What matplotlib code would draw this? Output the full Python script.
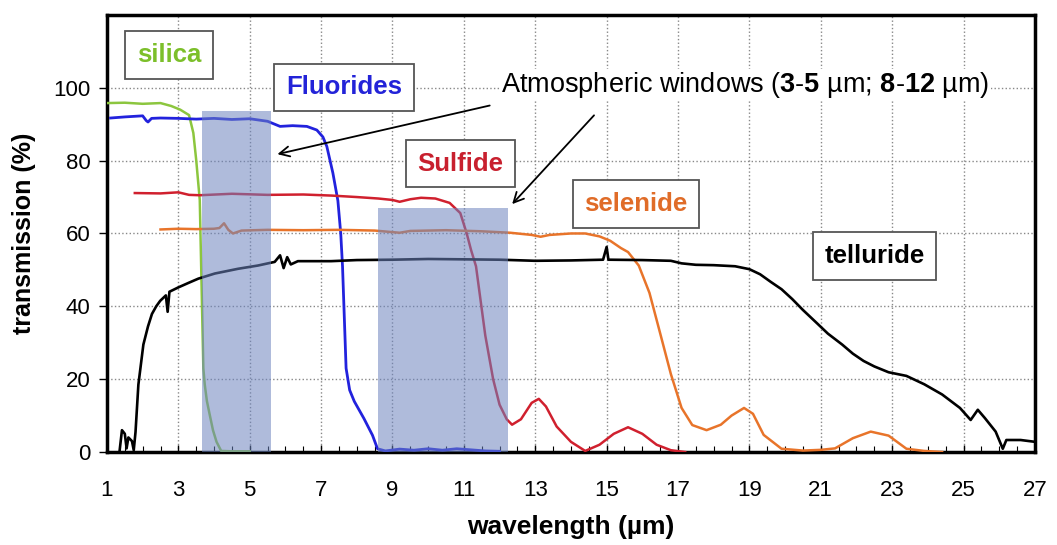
import numpy as np
import matplotlib
matplotlib.use("Agg")
import matplotlib.pyplot as plt
from matplotlib.ticker import MultipleLocator

plt.rcParams['font.family'] = ['Liberation Sans', 'DejaVu Sans']
plt.rcParams['mathtext.fontset'] = 'custom'
plt.rcParams['mathtext.rm'] = 'Liberation Sans'
plt.rcParams['mathtext.bf'] = 'Liberation Sans:bold'

# Données (longueur d'onde en µm, transmission en %)
silica_x = [1.0, 1.5, 2.0, 2.5, 2.8, 3.05, 3.3, 3.42, 3.5, 3.6, 3.65, 3.7, 3.74, 3.8,
            3.88, 3.97, 4.07, 4.2, 4.5, 5.0]
silica_y = [95.8, 95.9, 95.6, 95.8, 95.0, 94.0, 92.5, 87.6, 80.2, 69.2, 46.0, 23.0, 18.5, 14.0,
            10.2, 6.0, 2.8, 0.3, 0.2, 0.2]

fluor_x = [1.1, 1.5, 2.0, 2.1, 2.15, 2.25, 2.5, 3.0, 3.5, 4.0, 4.5, 5.0, 5.5, 5.85, 6.2,
           6.6, 6.88, 7.05, 7.16, 7.33, 7.47, 7.55, 7.6, 7.65, 7.7, 7.8, 7.93, 8.2, 8.44,
           8.58, 8.8, 9.2, 9.6, 10.0, 10.4, 10.8, 11.2, 11.6, 12.0]
fluor_y = [91.7, 92.0, 92.3, 91.0, 90.6, 91.6, 91.7, 91.6, 91.4, 91.6, 91.3, 91.5, 90.8, 89.4, 89.6,
           89.4, 88.4, 86.5, 83.9, 76.6, 69.0, 60.0, 51.0, 37.0, 23.0, 17.0, 13.9, 9.2, 4.6,
           0.9, 0.3, 0.8, 0.5, 0.9, 0.5, 0.9, 0.6, 0.3, 0.2]

sulf_x = [1.78, 2.5, 3.0, 3.3, 3.6, 4.5, 5.5, 6.5, 7.3, 8.0, 8.6, 9.0, 9.2, 9.5, 9.8,
          10.2, 10.6, 10.9, 11.08, 11.2, 11.34, 11.6, 11.82, 12.0, 12.2, 12.35, 12.6, 12.9,
          13.1, 13.3, 13.6, 14.0, 14.4, 14.8, 15.2, 15.6, 16.0, 16.4, 16.8, 17.2]
sulf_y = [71.1, 71.0, 71.3, 70.6, 70.5, 70.9, 70.6, 70.7, 70.4, 70.0, 69.6, 69.2, 68.7, 69.4, 69.8,
          69.6, 68.4, 65.6, 60.0, 55.5, 51.0, 32.0, 20.0, 13.0, 9.0, 7.5, 9.0, 13.5,
          14.6, 12.5, 7.0, 2.8, 0.3, 2.0, 5.0, 6.8, 5.0, 2.0, 0.5, 0.0]

sel_x = [2.5, 3.0, 3.5, 4.0, 4.15, 4.28, 4.4, 4.53, 4.77, 5.5, 6.5, 7.5, 8.5, 9.2, 9.5,
         10.5, 11.5, 12.3, 12.9, 13.15, 13.4, 14.0, 14.4, 14.8, 15.1, 15.4, 15.6, 15.9,
         16.2, 16.5, 16.8, 17.1, 17.4, 17.8, 18.2, 18.5, 18.85, 19.1, 19.4, 19.9, 20.5,
         21.0, 21.4, 21.9, 22.4, 22.9, 23.4, 23.9, 24.4]
sel_y = [61.1, 61.3, 61.2, 61.3, 61.5, 62.8, 61.0, 60.0, 60.8, 61.0, 60.9, 61.0, 60.8, 60.2, 60.7,
         60.9, 60.6, 60.2, 59.6, 59.1, 59.6, 60.0, 60.0, 59.2, 58.0, 56.0, 54.9, 51.2,
         43.7, 32.6, 21.4, 12.1, 7.4, 6.0, 7.5, 10.0, 12.1, 10.5, 4.7, 0.9, 0.4,
         0.6, 1.0, 3.8, 5.6, 4.5, 0.9, 0.3, 0.0]

tell_x = [1.35, 1.42, 1.5, 1.55, 1.6, 1.7, 1.75, 1.8, 1.88, 2.02, 2.15, 2.26, 2.38, 2.49,
          2.65, 2.7, 2.75, 3.0, 3.3, 3.56, 4.02, 4.67, 5.23, 5.7, 5.85, 5.95, 6.05, 6.15,
          6.35, 7.28, 8.0, 9.0, 10.0, 11.0, 12.0, 13.0, 14.0, 14.9, 15.0, 15.05, 16.0,
          16.8, 17.1, 17.5, 18.0, 18.6, 19.0, 19.3, 19.6, 19.9, 20.2, 20.5, 20.9, 21.2,
          21.6, 21.9, 22.2, 22.5, 22.9, 23.4, 23.9, 24.4, 24.9, 25.2, 25.4, 25.6, 25.9,
          26.1, 26.2, 26.6, 27.0]
tell_y = [0.0, 6.0, 5.0, 1.0, 4.0, 3.0, 0.5, 5.5, 18.5, 29.5, 34.5, 37.9, 40.0, 41.5,
          43.0, 38.5, 44.0, 45.2, 46.5, 47.6, 49.0, 50.3, 51.2, 52.2, 54.0, 50.5, 53.5, 51.5,
          52.4, 52.4, 52.7, 52.8, 53.0, 52.9, 52.8, 52.5, 52.6, 52.8, 56.3, 52.8, 52.7,
          52.5, 51.8, 51.4, 51.3, 51.0, 50.2, 48.8, 46.7, 44.7, 42.0, 39.0, 35.3, 32.5,
          29.5, 27.0, 25.0, 23.5, 21.9, 20.9, 18.6, 15.8, 12.1, 8.8, 11.6, 9.3, 5.6,
          0.9, 3.3, 3.3, 2.8]

# Fenêtres atmosphériques (zones ombrées)
win_start = [3.65, 8.6]
win_end = [5.61, 12.24]
win_top = [93.5, 67.0]

fig = plt.figure(figsize=(10.57, 5.45), dpi=100)
ax = fig.add_axes([0.1012, 0.1706, 0.8779, 0.802])

ax.plot(silica_x, silica_y, color='#8cc63e', lw=1.8, zorder=3)
ax.plot(fluor_x, fluor_y, color='#2222dd', lw=2.0, zorder=3)
ax.plot(sulf_x, sulf_y, color='#d0202e', lw=1.8, zorder=3)
ax.plot(sel_x, sel_y, color='#e8742a', lw=1.8, zorder=3)
ax.plot(tell_x, tell_y, color='black', lw=1.9, zorder=3)

# les zones sont dessinées par-dessus les courbes (semi-transparentes)
for x0, x1, top in zip(win_start, win_end, win_top):
    ax.bar(x0, top, width=x1 - x0, align='edge', color='#6d84bf', alpha=0.55,
           lw=0, zorder=4)

ax.set_xlim(1, 27)
ax.set_ylim(0, 120)
ax.set_xticks(np.arange(1, 28, 2))
ax.set_yticks(np.arange(0, 101, 20))
ax.xaxis.set_minor_locator(MultipleLocator(0.5))
ax.tick_params(axis='x', which='major', direction='in', length=5, width=1,
               labelsize=16, pad=20)
ax.tick_params(axis='x', which='minor', direction='in', length=4, width=0.8)
ax.tick_params(axis='y', which='major', direction='out', length=6, width=1,
               labelsize=16, pad=6)
ax.grid(True, which='major', linestyle=':', color='#888888', lw=1.0)
ax.set_axisbelow(True)
for sp in ax.spines.values():
    sp.set_linewidth(2.5)

ax.set_xlabel('wavelength (µm)', fontsize=19, fontweight='bold', labelpad=10)
ax.set_ylabel('transmission (%)', fontsize=18, fontweight='bold', labelpad=12)

box = dict(boxstyle='square,pad=0.45', facecolor='white', edgecolor='#555555', lw=1.3)
ax.text(2.74, 109, 'silica', color='#7cbf2a', fontsize=18.5, fontweight='bold',
        ha='center', va='center', bbox=box, zorder=6)
ax.text(7.64, 100.1, 'Fluorides', color='#2323d8', fontsize=18.5, fontweight='bold',
        ha='center', va='center', bbox=box, zorder=6)
ax.text(10.9, 79.1, 'Sulfide', color='#c8202e', fontsize=18.5, fontweight='bold',
        ha='center', va='center', bbox=box, zorder=6)
ax.text(15.82, 68.1, 'selenide', color='#e06c28', fontsize=18.5, fontweight='bold',
        ha='center', va='center', bbox=box, zorder=6)
ax.text(22.5, 53.8, 'telluride', color='black', fontsize=18.5, fontweight='bold',
        ha='center', va='center', bbox=box, zorder=6)

ax.text(12.05, 100.8,
        r'Atmospheric windows ($\mathbf{3}$-$\mathbf{5}$ µm; $\mathbf{8}$-$\mathbf{12}$ µm)',
        fontsize=19.5, ha='left', va='center', zorder=6,
        bbox=dict(facecolor='white', edgecolor='none', pad=1))
arrow = dict(arrowstyle='->', color='black', lw=1.3, mutation_scale=18)
ax.annotate('', xy=(5.7, 81.6), xytext=(11.8, 95.3), arrowprops=arrow, zorder=6)
ax.annotate('', xy=(12.3, 67.5), xytext=(14.7, 93.0), arrowprops=arrow, zorder=6)

fig.savefig('out.png', dpi=100)
